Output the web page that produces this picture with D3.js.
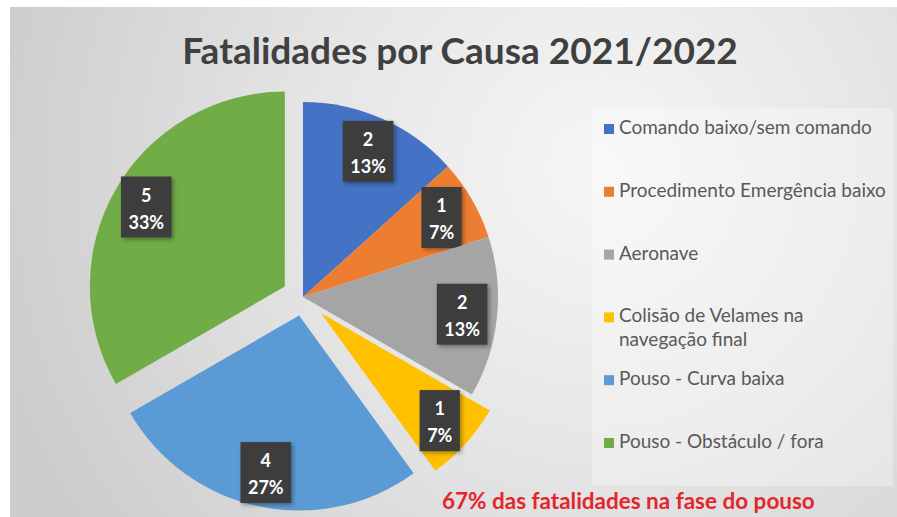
<!DOCTYPE html>
<html>
<head>
<meta charset="utf-8">
<script src="https://cdn.jsdelivr.net/npm/d3@7"></script>
<style>
  body { margin: 0; background: #fff; }
  svg { display: block; font-family: Lato, "Open Sans", sans-serif; }
</style>
</head>
<body>
<div id="chart-area"></div>
<script>
// data
const categories = [
  'Comando baixo/sem comando',
  'Procedimento Emergência baixo',
  'Aeronave',
  'Colisão de Velames na navegação final',
  'Pouso - Curva baixa',
  'Pouso - Obstáculo / fora'
];
const fatalities = [2, 1, 2, 1, 4, 5];
const percentLabels = ['13%', '7%', '13%', '7%', '27%', '33%'];
const chartTitle = 'Fatalidades por Causa 2021/2022';
const footNote = '67% das fatalidades na fase do pouso';

// styles
const colors = ['#4472C4', '#ED7D31', '#A5A5A5', '#FFC000', '#5B9BD5', '#70AD47'];
const explode = [0, 0, 0, 24, 19, 21];

const width = 897;
const height = 517;
const radius = 195;
const cx = 303, cy = 297;

const svg = d3.select('#chart-area')
  .append('svg')
  .attr('width', width)
  .attr('height', height);

const defs = svg.append('defs');

// background gradient
const grad = defs.append('radialGradient')
  .attr('id', 'bg')
  .attr('gradientUnits', 'userSpaceOnUse')
  .attr('cx', 600).attr('cy', 170).attr('r', 620);
grad.append('stop').attr('offset', '0%').attr('stop-color', '#f6f6f6');
grad.append('stop').attr('offset', '45%').attr('stop-color', '#e6e6e6');
grad.append('stop').attr('offset', '100%').attr('stop-color', '#cdcdcd');

const shadow = defs.append('filter').attr('id', 'shadow')
  .attr('x', '-30%').attr('y', '-30%').attr('width', '160%').attr('height', '160%');
shadow.append('feDropShadow')
  .attr('dx', 2).attr('dy', 2).attr('stdDeviation', 2)
  .attr('flood-color', '#000').attr('flood-opacity', 0.35);

svg.append('rect')
  .attr('x', 10).attr('y', 7)
  .attr('width', width - 10).attr('height', height - 7)
  .attr('fill', 'url(#bg)');

// fit font size of a text element to a target width
function fitWidth(sel, target) {
  const fs = parseFloat(sel.attr('font-size'));
  const w = sel.node().getComputedTextLength();
  sel.attr('font-size', fs * target / w);
}

// ########################################
// TITLE
// ########################################
const title = svg.append('text')
  .attr('x', 460).attr('y', 64)
  .attr('text-anchor', 'middle')
  .attr('font-size', 34)
  .attr('font-weight', 'bold')
  .attr('fill', '#404040')
  .text(chartTitle);
fitWidth(title, 556);

// ########################################
// PIE
// ########################################
const pie = d3.pie().sort(null).startAngle(0).endAngle(2 * Math.PI);
const arcs = pie(fatalities);

const arc = d3.arc().innerRadius(0).outerRadius(radius);
const labelArc = d3.arc().innerRadius(160).outerRadius(160);

const g = svg.append('g')
  .attr('transform', 'translate(' + cx + ',' + cy + ')');

const slices = g.selectAll('g.slice')
  .data(arcs)
  .enter()
  .append('g')
  .attr('class', 'slice')
  .attr('transform', (d, i) => {
    const mid = (d.startAngle + d.endAngle) / 2;
    const dx = Math.sin(mid) * explode[i];
    const dy = -Math.cos(mid) * explode[i];
    return 'translate(' + dx + ',' + dy + ')';
  });

slices.append('path')
  .attr('d', arc)
  .attr('fill', (d, i) => colors[i]);

// data labels
const labels = slices.append('g')
  .attr('transform', d => 'translate(' + labelArc.centroid(d) + ')');

labels.each(function (d, i) {
  const lg = d3.select(this);
  const box = lg.append('rect')
    .attr('fill', '#3d3d3d')
    .attr('filter', 'url(#shadow)');
  const t1 = lg.append('text')
    .attr('text-anchor', 'middle')
    .attr('y', -5)
    .attr('font-size', 18)
    .attr('font-weight', 'bold')
    .attr('fill', '#fff')
    .text(d.data);
  const t2 = lg.append('text')
    .attr('text-anchor', 'middle')
    .attr('y', 22)
    .attr('font-size', 18)
    .attr('font-weight', 'bold')
    .attr('fill', '#fff')
    .text(percentLabels[i]);
  const w = Math.max(t1.node().getComputedTextLength(), t2.node().getComputedTextLength()) + 15;
  box.attr('x', -w / 2).attr('y', -30).attr('width', w).attr('height', 61);
});

// ########################################
// LEGEND
// ########################################
svg.append('rect')
  .attr('x', 592).attr('y', 108)
  .attr('width', 301).attr('height', 378)
  .attr('fill', '#fff')
  .attr('fill-opacity', 0.3);

const legend = svg.append('g');

// size the legend font so the longest line matches the picture
const probe = legend.append('text').attr('font-size', 15).text(categories[1]);
const legendFont = 15 * 267 / probe.node().getComputedTextLength();
probe.remove();

const items = legend.selectAll('g.item')
  .data(categories)
  .enter()
  .append('g')
  .attr('class', 'item')
  .attr('transform', (d, i) => 'translate(604,' + (129 + i * 62.8) + ')');

items.append('rect')
  .attr('x', 0).attr('y', -5)
  .attr('width', 10).attr('height', 10)
  .attr('fill', (d, i) => colors[i]);

items.append('text')
  .attr('x', 15)
  .attr('y', 5)
  .attr('font-size', legendFont)
  .attr('fill', '#595959')
  .each(function (d) {
    // simple word wrap
    const text = d3.select(this);
    const words = d.split(' ');
    let line = [];
    let tspan = text.append('tspan').attr('x', 15).attr('dy', 0);
    words.forEach(word => {
      line.push(word);
      tspan.text(line.join(' '));
      if (tspan.node().getComputedTextLength() > 272 && line.length > 1) {
        line.pop();
        tspan.text(line.join(' '));
        line = [word];
        tspan = text.append('tspan').attr('x', 15).attr('dy', 24).text(word);
      }
    });
  });

// ########################################
// FOOTNOTE
// ########################################
const note = svg.append('text')
  .attr('x', 442).attr('y', 509)
  .attr('font-size', 19)
  .attr('font-weight', 'bold')
  .attr('fill', '#E3262B')
  .text(footNote);
fitWidth(note, 373);
</script>
</body>
</html>
